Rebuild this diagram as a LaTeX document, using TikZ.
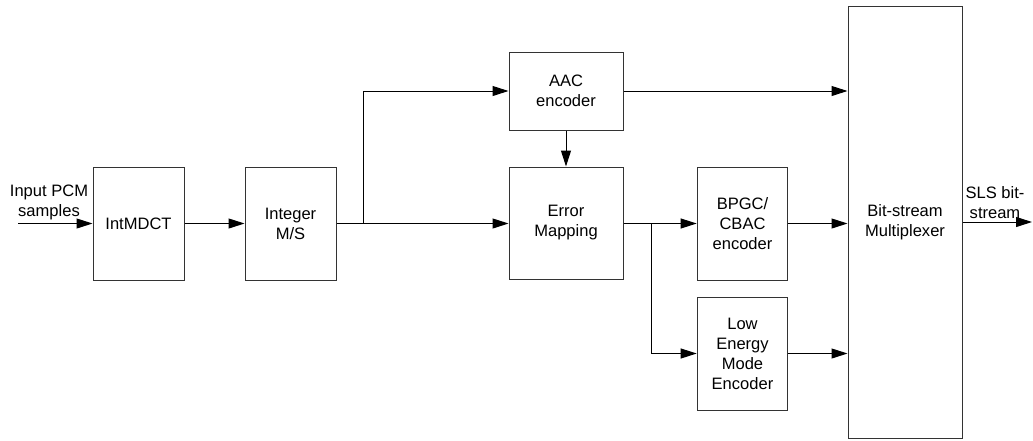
\documentclass[tikz,border=0pt]{standalone}
\usepackage{fontspec}
\setmainfont{Liberation Sans}
\usetikzlibrary{arrows.meta}

\begin{document}
\begin{tikzpicture}[x = 0.75pt, y = -0.75pt,
        block/.style = {draw=black!80, line width=0.75pt, align=center, inner sep=0pt, font=\fontsize{12.4}{15}\selectfont},
        flow/.style = {-{Triangle[length=12pt,width=7.5pt]}, line width=0.75pt},
        tag/.style = {align=center, inner sep=0pt, font=\fontsize{12.4}{15}\selectfont}]
        \useasboundingbox (0,0) rectangle (1033,440);
        % blocks
        \node[block, minimum width=68.25pt, minimum height=84.75pt] (mdct) at (138.5,223.5) {IntMDCT};
        \node[block, minimum width=68.25pt, minimum height=84.75pt] (ms) at (290.5,223.5) {Integer\\M/S};
        \node[block, minimum width=85.5pt, minimum height=58.5pt] (aac) at (566,91) {AAC\\encoder};
        \node[block, minimum width=85.5pt, minimum height=84pt] (err) at (566,223) {Error\\Mapping};
        \node[block, minimum width=68pt, minimum height=84.75pt] (bpgc) at (742.5,223.5) {BPGC/\\CBAC\\encoder};
        \node[block, minimum width=68pt, minimum height=84.75pt] (low) at (742.5,353.5) {Low\\Energy\\Mode\\Encoder};
        \node[block, minimum width=85.5pt, minimum height=324pt] (mux) at (905,222) {Bit-stream\\Multiplexer};
        % labels
        \node[tag] (inlabel) at (49,202) {Input PCM\\samples};
        \node[tag] (outlabel) at (995,203) {SLS bit-\\stream};
        \coordinate (in) at (18,223.5);
        \coordinate (out) at (1032,222);
        \coordinate (split1) at (363,223.5);
        \coordinate (split2) at (651,223.5);
        % connections
        \draw[flow] (in) -- (mdct);
        \draw[flow] (mdct) -- (ms);
        \draw[flow] (ms) -- (err.west |- ms);
        \draw[flow] (split1) |- (aac);
        \draw[flow] (aac) -- (err);
        \draw[flow] (aac) -- (mux.west |- aac);
        \draw[flow] (err.east |- bpgc) -- (bpgc);
        \draw[flow] (split2) |- (low);
        \draw[flow] (bpgc) -- (mux.west |- bpgc);
        \draw[flow] (low) -- (mux.west |- low);
        \draw[flow] (mux) -- (out);
\end{tikzpicture}
\end{document}
